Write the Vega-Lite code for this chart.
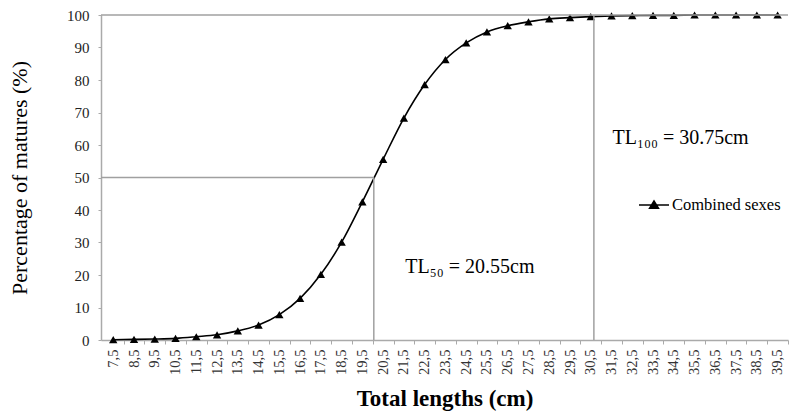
{
  "$schema": "https://vega.github.io/schema/vega-lite/v6.json",
  "width": 687,
  "height": 325,
  "autosize": {"type": "none"},
  "padding": {"left": 101, "top": 15, "right": 2, "bottom": 74},
  "config": {"font": "Liberation Serif", "view": {"stroke": null}, "axis": {"labelOverlap": false, "labelSeparation": 0}},
  "data": {
    "values": [
      {"TL": 7.5, "pct": 0.1, "group": "Combined sexes"},
      {"TL": 8.5, "pct": 0.2, "group": "Combined sexes"},
      {"TL": 9.5, "pct": 0.3, "group": "Combined sexes"},
      {"TL": 10.5, "pct": 0.5, "group": "Combined sexes"},
      {"TL": 11.5, "pct": 1.0, "group": "Combined sexes"},
      {"TL": 12.5, "pct": 1.6, "group": "Combined sexes"},
      {"TL": 13.5, "pct": 2.8, "group": "Combined sexes"},
      {"TL": 14.5, "pct": 4.6, "group": "Combined sexes"},
      {"TL": 15.5, "pct": 7.8, "group": "Combined sexes"},
      {"TL": 16.5, "pct": 12.8, "group": "Combined sexes"},
      {"TL": 17.5, "pct": 20.2, "group": "Combined sexes"},
      {"TL": 18.5, "pct": 30.1, "group": "Combined sexes"},
      {"TL": 19.5, "pct": 42.5, "group": "Combined sexes"},
      {"TL": 20.5, "pct": 55.6, "group": "Combined sexes"},
      {"TL": 21.5, "pct": 68.3, "group": "Combined sexes"},
      {"TL": 22.5, "pct": 78.6, "group": "Combined sexes"},
      {"TL": 23.5, "pct": 86.3, "group": "Combined sexes"},
      {"TL": 24.5, "pct": 91.4, "group": "Combined sexes"},
      {"TL": 25.5, "pct": 94.8, "group": "Combined sexes"},
      {"TL": 26.5, "pct": 96.7, "group": "Combined sexes"},
      {"TL": 27.5, "pct": 97.9, "group": "Combined sexes"},
      {"TL": 28.5, "pct": 98.8, "group": "Combined sexes"},
      {"TL": 29.5, "pct": 99.2, "group": "Combined sexes"},
      {"TL": 30.5, "pct": 99.5, "group": "Combined sexes"},
      {"TL": 31.5, "pct": 99.7, "group": "Combined sexes"},
      {"TL": 32.5, "pct": 99.8, "group": "Combined sexes"},
      {"TL": 33.5, "pct": 99.9, "group": "Combined sexes"},
      {"TL": 34.5, "pct": 99.9, "group": "Combined sexes"},
      {"TL": 35.5, "pct": 100, "group": "Combined sexes"},
      {"TL": 36.5, "pct": 100, "group": "Combined sexes"},
      {"TL": 37.5, "pct": 100, "group": "Combined sexes"},
      {"TL": 38.5, "pct": 100, "group": "Combined sexes"},
      {"TL": 39.5, "pct": 100, "group": "Combined sexes"}
    ]
  },
  "layer": [
    {
      "mark": {"type": "line", "strokeWidth": 1.6, "interpolate": "monotone"},
      "encoding": {
        "x": {
          "field": "TL",
          "type": "quantitative",
          "scale": {"domain": [6.91, 40], "nice": false, "zero": false},
          "axis": {
            "title": "Total lengths (cm)",
            "titleFontSize": 23,
            "titleFontWeight": "bold",
            "titleColor": "#000",
            "titlePadding": 13,
            "values": [7.5, 8, 8.5, 9, 9.5, 10, 10.5, 11, 11.5, 12, 12.5, 13, 13.5, 14, 14.5, 15, 15.5, 16, 16.5, 17, 17.5, 18, 18.5, 19, 19.5, 20, 20.5, 21, 21.5, 22, 22.5, 23, 23.5, 24, 24.5, 25, 25.5, 26, 26.5, 27, 27.5, 28, 28.5, 29, 29.5, 30, 30.5, 31, 31.5, 32, 32.5, 33, 33.5, 34, 34.5, 35, 35.5, 36, 36.5, 37, 37.5, 38, 38.5, 39, 39.5, 40],
            "tickCount": 1000,
            "labelExpr": "datum.value % 1 == 0 ? '' : replace(format(datum.value, '.1f'), '.', ',')",
            "labelAngle": -90,
            "labelFontSize": 14.5,
            "labelColor": "#333",
            "labelPadding": 5,
            "labelOverlap": false,
            "labelFlush": false,
            "tickSize": 4,
            "tickColor": "#aaa",
            "tickOpacity": {"condition": {"test": "datum.value % 1 != 0", "value": 0}, "value": 1},
            "domainColor": "#aaa",
            "domainWidth": 1.5,
            "grid": false
          }
        },
        "y": {
          "field": "pct",
          "type": "quantitative",
          "scale": {"domain": [0, 100], "nice": false},
          "axis": {
            "title": "Percentage of matures (%)",
            "titleFontSize": 22,
            "titleFontWeight": "normal",
            "titleColor": "#000",
            "titlePadding": 35,
            "values": [0, 10, 20, 30, 40, 50, 60, 70, 80, 90, 100],
            "tickCount": 1000,
            "format": "d",
            "labelFontSize": 15,
            "labelColor": "#222",
            "labelPadding": 9,
            "labelOverlap": false,
            "tickSize": 3,
            "tickColor": "#aaa",
            "domainColor": "#aaa",
            "domainWidth": 1.5,
            "grid": false
          }
        },
        "color": {
          "field": "group",
          "type": "nominal",
          "scale": {"range": ["black"]},
          "legend": {
            "orient": "none",
            "legendX": 537,
            "legendY": 174,
            "title": null,
            "symbolType": "M-1,0L1,0M-0.3,0.22L0,-0.27L0.3,0.22Z",
            "symbolSize": 900,
            "symbolStrokeWidth": 1.5,
            "symbolFillColor": "black",
            "symbolStrokeColor": "black",
            "labelFontSize": 16.5,
            "labelColor": "#000",
            "labelOffset": 2,
            "padding": 0
          }
        }
      }
    },
    {
      "mark": {"type": "point", "shape": "triangle-up", "filled": true, "size": 70, "opacity": 1},
      "encoding": {
        "x": {"field": "TL", "type": "quantitative"},
        "y": {"field": "pct", "type": "quantitative"},
        "color": {"field": "group", "type": "nominal"}
      }
    },
    {
      "data": {"values": [{}]},
      "mark": {"type": "rule", "color": "#a0a0a0", "strokeWidth": 1.5},
      "encoding": {
        "x": {"datum": 6.91, "type": "quantitative"},
        "x2": {"datum": 20.05},
        "y": {"datum": 50, "type": "quantitative"}
      }
    },
    {
      "data": {"values": [{}]},
      "mark": {"type": "rule", "color": "#a0a0a0", "strokeWidth": 1.5},
      "encoding": {
        "x": {"datum": 20.05, "type": "quantitative"},
        "y": {"datum": 0, "type": "quantitative"},
        "y2": {"datum": 50}
      }
    },
    {
      "data": {"values": [{}]},
      "mark": {"type": "rule", "color": "#a0a0a0", "strokeWidth": 1.5},
      "encoding": {
        "x": {"datum": 6.91, "type": "quantitative"},
        "x2": {"datum": 40},
        "y": {"datum": 100, "type": "quantitative"}
      }
    },
    {
      "data": {"values": [{}]},
      "mark": {"type": "rule", "color": "#a0a0a0", "strokeWidth": 1.5},
      "encoding": {
        "x": {"datum": 30.65, "type": "quantitative"},
        "y": {"datum": 0, "type": "quantitative"},
        "y2": {"datum": 100}
      }
    },
    {
      "data": {"values": [{}]},
      "mark": {"type": "text", "text": "TL₅₀ = 20.55cm", "align": "left", "baseline": "middle", "fontSize": 20, "color": "#000"},
      "encoding": {
        "x": {"datum": 21.57, "type": "quantitative"},
        "y": {"datum": 22.5, "type": "quantitative"}
      }
    },
    {
      "data": {"values": [{}]},
      "mark": {"type": "text", "text": "TL₁₀₀ = 30.75cm", "align": "left", "baseline": "middle", "fontSize": 20, "color": "#000"},
      "encoding": {
        "x": {"datum": 31.55, "type": "quantitative"},
        "y": {"datum": 62.2, "type": "quantitative"}
      }
    }
  ]
}
